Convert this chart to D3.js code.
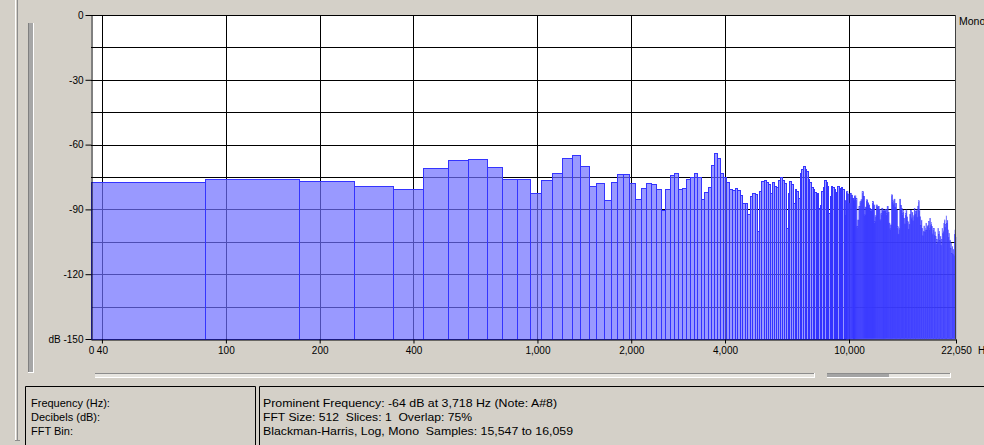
<!DOCTYPE html>
<html>
<head>
<meta charset="UTF-8" />
<script src="https://d3js.org/d3.v7.min.js"></script>
<style>
  body { margin: 0; background: #d4d0c8; overflow: hidden; }
  text { font-family: "Liberation Sans", Arial, sans-serif; }
</style>
</head>
<body>
<svg width="984" height="445"></svg>
<script>
// spectrum settings
const fftSize = 512;
const freqMin = 36.9;
const freqMax = 22050;
const dbMin = -150;
const dbMax = 0;

// dB per FFT bin (bin k covers k*bw .. (k+1)*bw)
const lowBins = [
  -77.6, -76.1, -77.2, -79.3, -80.9, -71.2, -67.4, -66.8, -70.7, -76.1,
  -76.2, -82.5, -76.5, -73.3, -66.4, -65.1, -70.1, -79.3, -78.1, -85.8,
  -77.6, -73.8, -74.0, -78.2, -85.2, -80.4, -78.1, -78.3, -80.9, -90.7,
  -80.9, -74.4, -73.5, -80.9, -80.4, -76.1, -75.2, -73.3, -75.2, -85.3,
  -82.1, -79.8, -69.6, -64.0, -66.4, -73.3, -75.2, -77.6, -80.7, -81.3,
  -80.4, -81.3, -83.6, -87.2
];
const midBins = [
  -87.2, -92.5, -84.1, -82.6, -83.0, -100.3, -81.8, -77.2, -76.4, -77.6,
  -78.7, -82.6, -77.6, -79.5, -79.8, -76.4, -75.3, -76.5, -77.9, -98.8,
  -82.6, -77.2, -78.5, -87.2, -81.0, -81.5, -84.9, -73.3, -71.5, -70.2,
  -71.5, -72.5, -76.0, -77.6, -80.0, -81.0, -82.3, -84.0
];
const upperBins = [
  -82.6, -89.5, -88.0, -81.8, -80.0, -76.4, -77.5, -79.5, -91.8, -84.0,
  -79.2, -80.0, -80.7, -83.3, -82.0, -79.5, -80.5, -81.0, -79.8, -81.0,
  -92.6, -86.0, -81.8, -83.0, -87.2, -82.6, -83.5, -84.9, -86.0, -83.8,
  -85.0, -98.0, -95.0, -88.7, -86.5, -85.6, -81.8, -84.0, -92.6, -89.0,
  -85.6, -87.0, -88.0, -89.5, -91.0, -90.0, -86.4, -88.0, -95.7, -93.0,
  -88.0, -89.0, -88.7, -90.0, -94.9, -92.0, -89.5, -91.0, -90.3, -91.0,
  -90.0, -92.0
];
const topBins = [
  -88.7, -91.5, -96.4, -99.0, -97.2, -83.3, -86.0, -87.5, -85.3, -89.0,
  -87.2, -90.4, -98.0, -101.5, -99.0, -85.3, -88.2, -89.5, -92.0, -90.6,
  -94.1, -96.8, -92.0, -90.3, -93.5, -95.7, -99.2, -97.0, -92.4, -90.6,
  -94.0, -91.5, -95.3, -93.0, -89.5, -92.2, -90.8, -90.3, -93.6, -88.5,
  -86.0, -90.2, -93.4, -97.5, -95.0, -98.8, -102.3, -100.1, -97.7, -100.5,
  -99.0, -96.4, -99.8, -98.0, -97.3, -95.7, -99.0, -94.1, -97.6, -96.2,
  -98.0, -101.4, -99.5, -98.8, -102.0, -100.4, -102.6, -106.1, -104.0, -105.2,
  -98.8, -101.7, -100.2, -104.5, -102.6, -106.8, -103.9, -98.8, -101.3, -100.0,
  -96.5, -94.9, -98.4, -97.1, -93.0, -96.6, -95.1, -99.5, -103.0, -101.2,
  -104.6, -104.2, -108.0, -105.5, -110.3, -107.3, -110.8, -108.6, -111.5, -101.6,
  -99.5, -103.0
];
const dbValues = lowBins.concat(midBins, upperBins, topBins);

const freqTicks = [40, 100, 200, 400, 1000, 2000, 4000, 10000, 22050];
const dbTicks = [0, -30, -60, -90, -120, -150];
const dbGrid = [0, -15, -30, -45, -60, -75, -90, -105, -120, -135];

const infoLeft = ["Frequency (Hz):", "Decibels (dB):", "FFT Bin:"];
const infoRight = [
  "Prominent Frequency: -64 dB at 3,718 Hz (Note: A#8)",
  "FFT Size: 512  Slices: 1  Overlap: 75%",
  "Blackman-Harris, Log, Mono  Samples: 15,547 to 16,059"
];
const infoRightWidth = [294, 209, 310];

const svg = d3.select("svg");
const binWidth = freqMax / (fftSize / 2);

const x = d3.scaleLog().domain([freqMin, freqMax]).range([91, 956]);
const y = d3.scaleLinear().domain([dbMin, dbMax]).range([339, 15]);

// window chrome
svg.append("line").attr("x1", 15.5).attr("x2", 15.5).attr("y1", 0).attr("y2", 440).attr("stroke", "#fff");
svg.append("line").attr("x1", 17.5).attr("x2", 17.5).attr("y1", 0).attr("y2", 440).attr("stroke", "#8c8c8c");
svg.append("line").attr("x1", 15).attr("x2", 20).attr("y1", 440.5).attr("y2", 440.5).attr("stroke", "#8c8c8c");
svg.append("rect").attr("x", 28).attr("y", 23).attr("width", 6).attr("height", 350).attr("fill", "#a6a6a6");
svg.append("line").attr("x1", 28.5).attr("x2", 28.5).attr("y1", 23).attr("y2", 373).attr("stroke", "#808080");
svg.append("line").attr("x1", 33.5).attr("x2", 33.5).attr("y1", 23).attr("y2", 373).attr("stroke", "#fff");
svg.append("line").attr("x1", 28).attr("x2", 34).attr("y1", 372.5).attr("y2", 372.5).attr("stroke", "#fff");

// plot background
svg.append("rect").attr("x", 91).attr("y", 15).attr("width", 865).attr("height", 324).attr("fill", "#fff");

// grid
svg.append("g").selectAll("line").data(dbGrid).join("line")
  .attr("x1", 91).attr("x2", 956)
  .attr("y1", d => Math.round(y(d)) + 0.5).attr("y2", d => Math.round(y(d)) + 0.5)
  .attr("stroke", "#000");
svg.append("g").selectAll("line").data(freqTicks.slice(0, -1)).join("line")
  .attr("x1", d => Math.round(x(d)) + 0.5).attr("x2", d => Math.round(x(d)) + 0.5)
  .attr("y1", 15).attr("y2", 339)
  .attr("stroke", "#000");

// spectrum bars
const binX0 = i => x(Math.max(freqMin, i * binWidth));
const binW = i => x((i + 1) * binWidth) - binX0(i);

svg.append("g").selectAll("rect").data(dbValues).join("rect")
  .attr("x", (d, i) => binX0(i))
  .attr("width", (d, i) => binW(i))
  .attr("y", d => y(d))
  .attr("height", d => y(dbMin) - y(d))
  .attr("fill", "rgb(110,110,255)")
  .attr("fill-opacity", 0.7)
  .attr("stroke", "#3434ff")
  .attr("stroke-width", (d, i) => binW(i) >= 1.2 ? 1 : binW(i) * 0.8)
  .attr("shape-rendering", (d, i) => binW(i) >= 1.2 ? "crispEdges" : "auto");

// axes
const yAxis = d3.axisLeft(y).tickValues(dbTicks).tickSize(6).tickSizeOuter(0).tickPadding(2)
  .tickFormat(d => d === dbMin ? "dB " + d : d);
const yG = svg.append("g").attr("transform", "translate(91.5,0)").call(yAxis);

const xAxis = d3.axisBottom(x).tickValues(freqTicks).tickSize(4).tickSizeOuter(0).tickPadding(3.5)
  .tickFormat(d3.format(","));
const xG = svg.append("g").attr("transform", "translate(0,339.5)").call(xAxis);

[yG, xG].forEach(g => {
  g.select(".domain").attr("stroke", "#000");
  g.selectAll(".tick line").attr("stroke", "#000");
  g.selectAll("text").attr("font-family", "Liberation Sans, Arial, sans-serif")
    .attr("font-size", 10).attr("fill", "#000");
});

svg.append("text").attr("x", 91.5).attr("y", 353.5).attr("text-anchor", "middle")
  .attr("font-size", 10).text("0");
svg.append("text").attr("x", 978).attr("y", 353.5).attr("font-size", 10).text("Hz");
svg.append("text").attr("x", 959).attr("y", 24.5).attr("font-size", 10.5).text("Mono");

// right border of plot
svg.append("line").attr("x1", 955.5).attr("x2", 955.5).attr("y1", 15).attr("y2", 339).attr("stroke", "#404040");

// scroll bars under the plot
svg.append("rect").attr("x", 95).attr("y", 373).attr("width", 720).attr("height", 5).attr("fill", "#e6e4df");
svg.append("rect").attr("x", 827).attr("y", 373).attr("width", 124).attr("height", 5).attr("fill", "#e6e4df");
svg.append("rect").attr("x", 827).attr("y", 374).attr("width", 62).attr("height", 3).attr("fill", "#a4a4a4");
[[95, 815], [827, 951]].forEach(([a, b]) => {
  svg.append("line").attr("x1", a).attr("x2", b).attr("y1", 373.5).attr("y2", 373.5).attr("stroke", "#8c8c8c");
  svg.append("line").attr("x1", a).attr("x2", b).attr("y1", 377.5).attr("y2", 377.5).attr("stroke", "#fff");
  svg.append("line").attr("x1", b - 0.5).attr("x2", b - 0.5).attr("y1", 373).attr("y2", 378).attr("stroke", "#fff");
});

// info panels
svg.append("path").attr("d", "M25.5,445 V386.5 H255.5 V445").attr("fill", "none").attr("stroke", "#000");
svg.append("path").attr("d", "M259.5,445 V386.5 H984").attr("fill", "none").attr("stroke", "#000");

svg.append("g").selectAll("text").data(infoLeft).join("text")
  .attr("x", 31).attr("y", (d, i) => 406.5 + i * 14.3)
  .attr("font-size", 11).text(d => d);
svg.append("g").selectAll("text").data(infoRight).join("text")
  .attr("x", 263).attr("y", (d, i) => 406.5 + i * 14.3)
  .attr("font-size", 11.5).style("white-space", "pre")
  .attr("textLength", (d, i) => infoRightWidth[i]).attr("lengthAdjust", "spacingAndGlyphs")
  .text(d => d);
</script>
</body>
</html>
